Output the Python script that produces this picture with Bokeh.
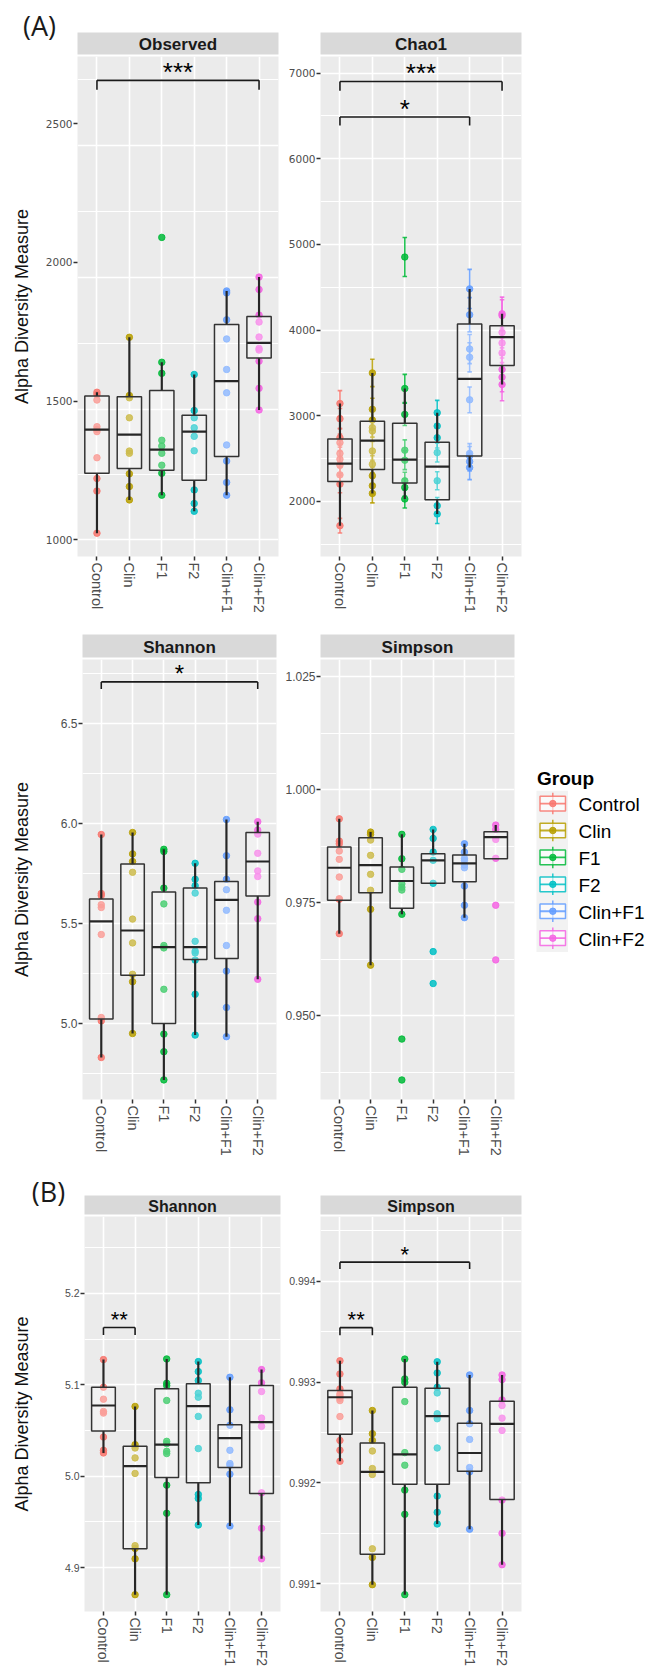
import math
from bokeh.plotting import figure
from bokeh.models import Range1d, FixedTicker, PrintfTickFormatter
from bokeh.layouts import column, row
from bokeh.embed import file_html
from bokeh.resources import INLINE
from bokeh.core.properties import value

GROUPS = ["Control", "Clin", "F1", "F2", "Clin+F1", "Clin+F2"]
COLORS = ["#F8766D", "#B79F00", "#00BA38", "#00BFC4", "#619CFF", "#F564E3"]

# ---------------- (A) Observed ----------------
OBS_POINTS = [
    [1532, 1524, 1504, 1408, 1398, 1390, 1296, 1221, 1176, 1024],
    [1730, 1520, 1512, 1440, 1320, 1312, 1238, 1192, 1144],
    [2090, 1640, 1600, 1359, 1338, 1312, 1269, 1240, 1161],
    [1596, 1466, 1440, 1404, 1373, 1321, 1180, 1131, 1103],
    [1897, 1890, 1793, 1724, 1614, 1530, 1342, 1284, 1207, 1161],
    [1947, 1902, 1810, 1785, 1731, 1690, 1684, 1644, 1546, 1468],
]
OBS_Q1 = [1240, 1257, 1251, 1215, 1300, 1655]
OBS_MED = [1397, 1379, 1325, 1390, 1572, 1710]
OBS_Q3 = [1518, 1516, 1538, 1449, 1776, 1805]
OBS_LO = [1024, 1144, 1161, 1103, 1161, 1468]
OBS_HI = [1532, 1730, 1640, 1596, 1897, 1947]
OBS_SIG = [("Control", "Clin+F2", 2656, 2622, "***")]
OBS_TICKS = [1000, 1500, 2000, 2500]
OBS_GRID_MAJOR = [1000, 1471, 1945, 2422]
OBS_GRID_MINOR = [1235, 1707, 2184, 2660]

# ---------------- (A) Chao1 ----------------
CHAO_POINTS = [
    [3143, 2965, 2744, 2686, 2560, 2493, 2423, 2310, 2202, 1717],
    [3500, 3075, 2950, 2861, 2822, 2589, 2435, 2299, 2183, 2093],
    [4853, 3318, 3016, 2598, 2481, 2241, 2163, 2028],
    [3035, 2880, 2744, 2570, 2241, 1950, 1853],
    [4481, 4179, 3779, 3682, 3186, 2560, 2531, 2465, 2395],
    [4190, 4170, 3973, 3849, 3733, 3540, 3450, 3365],
]
CHAO_SE = [
    [150, 120, 110, 100, 110, 100, 100, 95, 100, 85],
    [160, 130, 120, 110, 120, 110, 100, 100, 95, 110],
    [228, 165, 130, 120, 110, 100, 100, 105],
    [145, 130, 120, 110, 105, 95, 110],
    [228, 200, 170, 170, 150, 115, 110, 110, 140],
    [195, 185, 180, 175, 175, 170, 170, 190],
]
CHAO_Q1 = [2233, 2372, 2214, 2020, 2531, 3586]
CHAO_MED = [2442, 2709, 2489, 2407, 3430, 3919]
CHAO_Q3 = [2729, 2935, 2912, 2691, 4070, 4051]
CHAO_LO = [1717, 2093, 2028, 1853, 2395, 3365]
CHAO_HI = [3143, 3500, 3318, 3035, 4481, 4190]
CHAO_SIG = [("Control", "Clin+F2", 6903, 6795, "***"),
            ("Control", "Clin+F1", 6488, 6388, "*")]
CHAO_TICKS = [2000, 3000, 4000, 5000, 6000, 7000]
CHAO_MINOR = [1500, 2500, 3500, 4500, 5500, 6500]

# ---------------- (A) Shannon ----------------
SHA_POINTS = [
    [5.945, 5.650, 5.640, 5.594, 5.580, 5.445, 5.030, 5.013, 4.830],
    [5.955, 5.848, 5.810, 5.756, 5.522, 5.403, 5.246, 5.209, 4.950],
    [5.871, 5.860, 5.677, 5.598, 5.390, 5.378, 5.171, 4.947, 4.859, 4.718],
    [5.801, 5.721, 5.689, 5.652, 5.411, 5.362, 5.353, 5.317, 5.146, 4.942],
    [6.020, 5.839, 5.721, 5.669, 5.566, 5.390, 5.262, 5.080, 4.934],
    [6.009, 5.967, 5.947, 5.851, 5.763, 5.735, 5.607, 5.524, 5.221],
]
SHA_Q1 = [5.022, 5.241, 5.000, 5.320, 5.325, 5.637]
SHA_MED = [5.511, 5.465, 5.382, 5.382, 5.618, 5.810]
SHA_Q3 = [5.622, 5.798, 5.657, 5.677, 5.710, 5.955]
SHA_LO = [4.830, 4.950, 4.718, 4.942, 4.934, 5.221]
SHA_HI = [5.945, 5.955, 5.871, 5.801, 6.020, 6.009]
SHA_SIG = [("Control", "Clin+F2", 6.708, 6.672, "*")]
SHA_TICKS = [5.0, 5.5, 6.0, 6.5]
SHA_MINOR = [4.75, 5.25, 5.75, 6.25, 6.75]

# ---------------- (A) Simpson ----------------
SIA_POINTS = [
    [0.99353, 0.98861, 0.98802, 0.98641, 0.98458, 0.98067, 0.97588, 0.97575, 0.96816],
    [0.99060, 0.99010, 0.98884, 0.98546, 0.98127, 0.97774, 0.97354, 0.96119],
    [0.99010, 0.98471, 0.98237, 0.97916, 0.97841, 0.97780, 0.97244, 0.94486, 0.93581],
    [0.99120, 0.98921, 0.98619, 0.98436, 0.97928, 0.96419, 0.95713],
    [0.98802, 0.98619, 0.98480, 0.98436, 0.98332, 0.98272, 0.97868, 0.97443, 0.97169],
    [0.99215, 0.99120, 0.98899, 0.98480, 0.97443, 0.96236],
]
SIA_Q1 = [0.97553, 0.97721, 0.97376, 0.97928, 0.97963, 0.98471]
SIA_MED = [0.98272, 0.98332, 0.97979, 0.98436, 0.98369, 0.98950]
SIA_Q3 = [0.98729, 0.98934, 0.98288, 0.98581, 0.98552, 0.99067]
SIA_LO = [0.96816, 0.96119, 0.97244, 0.97928, 0.97169, 0.98471]
SIA_HI = [0.99353, 0.99060, 0.99010, 0.99120, 0.98802, 0.99215]
SIA_SIG = []
SIA_TICKS = [0.950, 0.975, 1.000, 1.025]
SIA_MINOR = [0.9375, 0.9625, 0.9875, 1.0125]

# ---------------- (B) Shannon ----------------
SHB_POINTS = [
    [5.1275, 5.0973, 5.0842, 5.0708, 5.0690, 5.0428, 5.0283, 5.0254],
    [5.0763, 5.0345, 5.0308, 5.0200, 5.0030, 4.9240, 4.9210, 4.9096, 4.8704],
    [5.1282, 5.1016, 5.0991, 5.0828, 5.0381, 5.0356, 5.0272, 5.0247, 4.9902, 4.9594, 4.8704],
    [5.1253, 5.1144, 5.1046, 5.0907, 5.0864, 5.0654, 5.0302, 4.9800, 4.9757, 4.9466],
    [5.1082, 5.0726, 5.0556, 5.0283, 5.0138, 5.0120, 5.0022, 4.9455],
    [5.1166, 5.1021, 5.0926, 5.0635, 5.0545, 4.9818, 4.9430, 4.9096],
]
SHB_Q1 = [5.0493, 4.9205, 4.9986, 4.9927, 5.0095, 4.9811]
SHB_MED = [5.0773, 5.0109, 5.0345, 5.0766, 5.0417, 5.0592]
SHB_Q3 = [5.0973, 5.0327, 5.0955, 5.1010, 5.0563, 5.0991]
SHB_LO = [5.0254, 4.8704, 4.8704, 4.9466, 4.9455, 4.9096]
SHB_HI = [5.1275, 5.0763, 5.1282, 5.1253, 5.1082, 5.1166]
SHB_SIG = [("Control", "Clin", 5.1626, 5.1544, "**")]
SHB_TICKS = [4.9, 5.0, 5.1, 5.2]
SHB_MINOR = [4.85, 4.95, 5.05, 5.15, 5.25]

# ---------------- (B) Simpson ----------------
SIB_POINTS = [
    [0.993211, 0.993080, 0.992932, 0.992883, 0.992866, 0.992839, 0.992816, 0.992658, 0.992421, 0.992323, 0.992214],
    [0.992718, 0.992488, 0.992421, 0.992316, 0.992142, 0.992083, 0.991346, 0.991260, 0.990990],
    [0.993228, 0.993031, 0.992997, 0.992806, 0.992300, 0.992175, 0.991928, 0.991688, 0.990891],
    [0.993201, 0.993090, 0.992948, 0.992892, 0.992685, 0.992636, 0.992346, 0.991869, 0.991708, 0.991592],
    [0.993070, 0.992718, 0.992586, 0.992431, 0.992152, 0.992109, 0.991540],
    [0.993070, 0.993024, 0.992823, 0.992767, 0.992642, 0.992520, 0.991829, 0.991500, 0.991188],
]
SIB_Q1 = [0.992481, 0.991293, 0.991987, 0.991987, 0.992115, 0.991836]
SIB_MED = [0.992849, 0.992109, 0.992283, 0.992662, 0.992296, 0.992586]
SIB_Q3 = [0.992915, 0.992395, 0.992948, 0.992938, 0.992592, 0.992809]
SIB_LO = [0.992214, 0.990990, 0.990891, 0.991592, 0.991540, 0.991188]
SIB_HI = [0.993211, 0.992718, 0.993228, 0.993201, 0.993070, 0.993070]
SIB_SIG = [("Control", "Clin+F1", 0.994189, 0.994122, "*"),
           ("Control", "Clin", 0.993540, 0.993465, "**")]
SIB_TICKS = [0.991, 0.992, 0.993, 0.994]
SIB_MINOR = [0.9905, 0.9915, 0.9925, 0.9935, 0.9945]

YLABEL = "Alpha Diversity Measure"
PANEL_BG = "#EBEBEB"
DARK = "#262626"


def blank(W, H, flip=True):
    f = figure(width=W, height=H, x_range=Range1d(0, W),
               y_range=Range1d(H, 0) if flip else Range1d(0, H),
               x_axis_location=None, y_axis_location=None, min_border=0,
               toolbar_location=None, output_backend="svg")
    f.outline_line_color = None
    f.grid.visible = False
    f.background_fill_color = "white"
    f.border_fill_color = "white"
    return f


def build_panel(W, H, bl, br, bb, yr, ticks, minor, points, q1, med, q3, lo, hi,
                sigs, ytick_font, ytick_size, xtick_size, xstandoff=2, fmt=None,
                grid_major=None, grid_minor=None, se=None, star_size=24):
    p = figure(width=W, height=H, x_range=Range1d(0.4, 6.6), y_range=Range1d(*yr),
               output_backend="svg", toolbar_location=None,
               min_border=0, min_border_left=bl, min_border_right=br,
               min_border_top=0, min_border_bottom=bb)
    p.background_fill_color = PANEL_BG
    p.border_fill_color = "white"
    p.outline_line_color = None

    pos = list(range(1, len(GROUPS) + 1))
    p.xaxis.ticker = FixedTicker(ticks=pos)
    p.xaxis.major_label_overrides = {i + 1: g for i, g in enumerate(GROUPS)}
    p.xaxis.major_label_orientation = -math.pi / 2
    p.xaxis.major_label_text_font = "Liberation Sans"
    p.xaxis.major_label_text_font_size = f"{xtick_size}px"
    p.xaxis.major_label_text_color = "#4D4D4D"
    p.xaxis.major_label_standoff = xstandoff
    for ax in (p.xaxis, p.yaxis):
        ax.axis_line_color = None
        ax.major_tick_line_color = "#333333"
        ax.major_tick_line_width = 1.5
        ax.major_tick_out = 4
        ax.major_tick_in = 0
        ax.minor_tick_line_color = None
    p.yaxis.ticker = FixedTicker(ticks=ticks, minor_ticks=minor)
    p.yaxis.major_label_text_font = ytick_font
    p.yaxis.major_label_text_font_size = f"{ytick_size}px"
    p.yaxis.major_label_text_color = "#4D4D4D"
    p.yaxis.major_label_standoff = 1
    if fmt:
        p.yaxis.formatter = PrintfTickFormatter(format=fmt)

    p.xgrid.ticker = FixedTicker(ticks=pos)
    p.xgrid.grid_line_color = "white"
    p.xgrid.grid_line_width = 1.6
    gmaj = grid_major if grid_major is not None else ticks
    gmin = grid_minor if grid_minor is not None else minor
    p.ygrid.ticker = FixedTicker(ticks=gmaj, minor_ticks=gmin)
    p.ygrid.grid_line_color = "white"
    p.ygrid.grid_line_width = 1.6
    p.ygrid.minor_grid_line_color = "white"
    p.ygrid.minor_grid_line_width = 1.1

    # points
    xs, ys, cs = [], [], []
    for i, vals in enumerate(points):
        for v in vals:
            xs.append(i + 1)
            ys.append(v)
            cs.append(COLORS[i])
    if se is not None:
        elo, ehi = [], []
        for vals, errs in zip(points, se):
            for v, e in zip(vals, errs):
                elo.append(v - e)
                ehi.append(v + e)
        p.segment(x0=xs, x1=xs, y0=elo, y1=ehi, line_color=cs, line_width=1.6, line_alpha=0.85)
        p.segment(x0=[x - 0.07 for x in xs], x1=[x + 0.07 for x in xs], y0=ehi, y1=ehi,
                  line_color=cs, line_width=1.6, line_alpha=0.85)
        p.segment(x0=[x - 0.07 for x in xs], x1=[x + 0.07 for x in xs], y0=elo, y1=elo,
                  line_color=cs, line_width=1.6, line_alpha=0.85)
    p.scatter(xs, ys, size=6.5, fill_color=cs, line_color=cs, fill_alpha=0.85, line_alpha=0.85)

    # boxes
    p.segment(x0=pos, x1=pos, y0=lo, y1=q1, line_color=DARK, line_width=2.2)
    p.segment(x0=pos, x1=pos, y0=q3, y1=hi, line_color=DARK, line_width=2.2)
    p.quad(left=[x - 0.375 for x in pos], right=[x + 0.375 for x in pos], bottom=q1, top=q3,
           fill_color="white", fill_alpha=0.3, line_color="#333333", line_width=1.5)
    p.segment(x0=[x - 0.375 for x in pos], x1=[x + 0.375 for x in pos], y0=med, y1=med,
              line_color=DARK, line_width=2.2)

    # significance brackets
    for g1, g2, ybar, ytip, lab in sigs:
        a = GROUPS.index(g1) + 1
        b = GROUPS.index(g2) + 1
        p.segment(x0=[a, a, b], x1=[a, b, b], y0=[ytip, ybar, ybar], y1=[ybar, ybar, ytip],
                  line_color="#1A1A1A", line_width=1.6)
        p.text(x=[(a + b) / 2], y=[ybar], text=[lab], text_align="center",
               text_baseline="alphabetic", text_font=value("Liberation Sans"),
               text_font_size=f"{star_size}px", text_color="black", y_offset=-8)
    return p


def ylabel_fig(H, center):
    # narrow strip carrying only the y-axis title, centred at `center` px from the top
    d = min(center, H - center) - 1
    f = figure(width=38, height=H, x_range=Range1d(0, 1), y_range=Range1d(0, 1),
               x_axis_location=None, y_axis_location="left", toolbar_location=None,
               output_backend="svg", min_border=0, min_border_left=37, min_border_right=0,
               min_border_top=center - d, min_border_bottom=H - (center + d))
    f.outline_line_color = None
    f.grid.visible = False
    f.background_fill_color = "white"
    f.border_fill_color = "white"
    ax = f.yaxis[0]
    ax.ticker = FixedTicker(ticks=[])
    ax.major_tick_out = 0
    ax.major_tick_in = 0
    ax.minor_tick_out = 0
    ax.minor_tick_in = 0
    ax.major_label_standoff = 0
    ax.axis_line_color = None
    ax.axis_label = YLABEL
    ax.axis_label_standoff = 6
    ax.axis_label_text_font = "Liberation Sans"
    ax.axis_label_text_font_size = "18px"
    ax.axis_label_text_font_style = "normal"
    ax.axis_label_text_color = "#111111"
    return f


def header(height, strips, y0, y1, tsize, label=None):
    # strip band above the panels (pixel units)
    h = blank(652, height)
    lefts = [s[0] for s in strips]
    rights = [s[1] for s in strips]
    h.quad(left=lefts, right=rights, bottom=[y1] * len(strips), top=[y0] * len(strips),
           fill_color="#D9D9D9", line_color=None)
    h.text(x=[(s[0] + s[1]) / 2 for s in strips], y=[(y0 + y1) / 2 + 1] * len(strips),
           text=[s[2] for s in strips], text_align="center", text_baseline="middle",
           text_font=value("Liberation Sans"), text_font_style=value("bold"),
           text_font_size=f"{tsize}px", text_color="#1A1A1A")
    if label is not None:
        h.text(x=[label[1]], y=[label[2]], text=[label[0]], text_align="center",
               text_baseline="middle", text_font=value("Open Sans"),
               text_font_size="27px", text_color="#1A1A1A")
    return h


def legend_fig(W, H):
    lg = blank(W, H)
    n = len(GROUPS)
    step = 31.2
    cy = [167 + step * k for k in range(n)]
    lg.text(x=[11.5], y=[138], text=["Group"], text_align="left", text_baseline="alphabetic",
            text_font=value("Liberation Sans"), text_font_style=value("bold"),
            text_font_size="19px", text_color="black")
    lg.quad(left=[11], right=[42.5], top=[cy[0] - 15], bottom=[cy[-1] + 16],
            fill_color="#F2F2F2", line_color=None)
    xc = 27.3
    lg.segment(x0=[xc] * n, x1=[xc] * n, y0=[c - 12.5 for c in cy], y1=[c + 12.5 for c in cy],
               line_color=COLORS, line_width=1.5, line_alpha=0.85)
    lg.quad(left=[14.5] * n, right=[40] * n, top=[c - 8.5 for c in cy], bottom=[c + 8.5 for c in cy],
            fill_color="white", fill_alpha=0.6, line_color=COLORS, line_width=1.5, line_alpha=0.85)
    lg.segment(x0=[14.5] * n, x1=[40] * n, y0=cy, y1=cy, line_color=COLORS, line_width=1.8,
               line_alpha=0.85)
    lg.scatter([xc] * n, cy, size=6.5, fill_color=COLORS, line_color=COLORS, fill_alpha=0.85,
               line_alpha=0.85)
    lg.text(x=[53] * n, y=[c + 1 for c in cy], text=GROUPS, text_align="left", text_baseline="middle",
            text_font=value("Liberation Sans"), text_font_size="19px", text_color="black")
    return lg


# ---- row 1 (page y 0-618) ----
H1 = header(55, [(77, 278, "Observed"), (320, 521, "Chao1")], 32, 54, 17, ("(A)", 39, 25))
Y1 = ylabel_fig(563, 277)
P1 = build_panel(242, 563, 39, 2, 62, (940, 2742), OBS_TICKS, [], OBS_POINTS,
                 OBS_Q1, OBS_MED, OBS_Q3, OBS_LO, OBS_HI, OBS_SIG,
                 "DejaVu Sans", 10.5, 14.5, grid_major=OBS_GRID_MAJOR, grid_minor=OBS_GRID_MINOR,
                 star_size=26)
P2 = build_panel(250, 563, 40, 9, 62, (1357, 7194), CHAO_TICKS, CHAO_MINOR, CHAO_POINTS,
                 CHAO_Q1, CHAO_MED, CHAO_Q3, CHAO_LO, CHAO_HI, CHAO_SIG,
                 "DejaVu Sans", 10.5, 14.5, se=CHAO_SE, star_size=26)

# ---- row 2 (page y 618-1168) ----
H2 = header(40, [(82, 276, "Shannon"), (320, 514, "Simpson")], 16, 39, 17)
Y2 = ylabel_fig(510, 241)
P3 = build_panel(242, 510, 44, 4, 69, (4.62, 6.82), SHA_TICKS, SHA_MINOR, SHA_POINTS,
                 SHA_Q1, SHA_MED, SHA_Q3, SHA_LO, SHA_HI, SHA_SIG,
                 "Liberation Sans", 12, 14.5, fmt="%.1f", star_size=24)
P4 = build_panel(245, 510, 40, 11, 69, (0.9315, 1.02875), SIA_TICKS, SIA_MINOR, SIA_POINTS,
                 SIA_Q1, SIA_MED, SIA_Q3, SIA_LO, SIA_HI, SIA_SIG,
                 "Liberation Sans", 12, 14.5, fmt="%.3f")
LEG = legend_fig(127, 510)

# ---- row 3 (page y 1168-1669) ----
H3 = header(47, [(84, 280, "Shannon"), (320, 521, "Simpson")], 27, 46, 16, ("(B)", 48, 23))
Y3 = ylabel_fig(454, 221)
P5 = build_panel(244, 454, 46, 2, 57, (4.852, 5.284), SHB_TICKS, SHB_MINOR, SHB_POINTS,
                 SHB_Q1, SHB_MED, SHB_Q3, SHB_LO, SHB_HI, SHB_SIG,
                 "Liberation Sans", 10.5, 14, xstandoff=2, fmt="%.1f", star_size=22)
P6 = build_panel(248, 454, 38, 9, 57, (0.990724, 0.994642), SIB_TICKS, SIB_MINOR, SIB_POINTS,
                 SIB_Q1, SIB_MED, SIB_Q3, SIB_LO, SIB_HI, SIB_SIG,
                 "Liberation Sans", 10.5, 14, xstandoff=2, fmt="%.3f", star_size=22)

layout = column(H1, row(Y1, P1, P2), H2, row(Y2, P3, P4, LEG), H3, row(Y3, P5, P6))

with open("out.html", "w") as f:
    f.write(file_html(layout, INLINE, title="Alpha diversity"))
